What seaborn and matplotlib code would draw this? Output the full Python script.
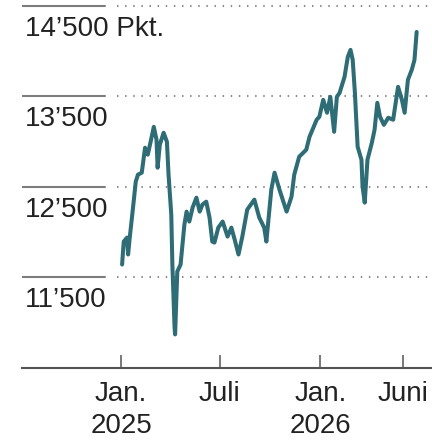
import matplotlib
matplotlib.use("Agg")
import matplotlib.pyplot as plt
import matplotlib.dates as mdates
import matplotlib.transforms as mtransforms
import numpy as np
import pandas as pd
import seaborn as sns

# Index level (points) over time
dates = [
    "2025-01-03", "2025-01-06", "2025-01-12", "2025-01-14", "2025-01-17", "2025-01-23",
    "2025-01-28", "2025-02-01", "2025-02-08", "2025-02-14", "2025-02-19", "2025-02-25",
    "2025-03-02", "2025-03-07", "2025-03-09", "2025-03-13", "2025-03-20", "2025-03-26",
    "2025-03-29", "2025-04-03", "2025-04-05", "2025-04-09", "2025-04-10", "2025-04-14",
    "2025-04-20", "2025-04-27", "2025-05-01", "2025-05-06", "2025-05-12", "2025-05-19",
    "2025-05-25", "2025-05-30", "2025-06-06", "2025-06-12", "2025-06-17", "2025-06-21",
    "2025-06-28", "2025-07-06", "2025-07-15", "2025-07-22", "2025-07-28", "2025-08-04",
    "2025-08-11", "2025-08-20", "2025-09-02", "2025-09-11", "2025-09-20", "2025-09-24",
    "2025-10-03", "2025-10-09", "2025-10-18", "2025-10-31", "2025-11-09", "2025-11-14",
    "2025-11-23", "2025-12-06", "2025-12-12", "2025-12-25", "2025-12-30", "2026-01-06",
    "2026-01-13", "2026-01-19", "2026-01-26", "2026-01-31", "2026-02-05", "2026-02-14",
    "2026-02-20", "2026-02-25", "2026-03-01", "2026-03-05", "2026-03-10", "2026-03-17",
    "2026-03-19", "2026-03-23", "2026-03-28", "2026-04-05", "2026-04-10", "2026-04-15",
    "2026-04-20", "2026-04-27", "2026-05-05", "2026-05-14", "2026-05-23", "2026-05-30",
    "2026-06-04", "2026-06-10", "2026-06-17", "2026-06-22", "2026-06-26",
]
points = [
    11643, 11897, 11941, 11754, 11941, 12272,
    12559, 12636, 12658, 12934, 12857, 13022,
    13165, 13022, 12713, 12967, 13099, 13000,
    12636, 12195, 11643, 10948, 10871, 11566,
    11643, 12084, 12228, 12118, 12272, 12382,
    12228, 12305, 12338, 12162, 11897, 11886,
    12051, 12118, 11952, 12051, 11919, 11754,
    11952, 12250, 12360, 12162, 12051, 11897,
    12470, 12658, 12470, 12228, 12393, 12636,
    12834, 12912, 13055, 13243, 13276, 13463,
    13320, 13496, 13110, 13496, 13540, 13717,
    13937, 14015, 13904, 13540, 12945, 12801,
    12504, 12327, 12801, 12989, 13132, 13430,
    13276, 13187, 13265, 13243, 13607, 13463,
    13320, 13684, 13794, 13904, 14213,
]

grid_levels = [14500, 13500, 12500, 11500]
grid_labels = ["14’500 Pkt.", "13’500", "12’500", "11’500"]

tick_dates = ["2025-01-01", "2025-07-01", "2026-01-01", "2026-06-01"]
tick_labels = ["Jan.\n2025", "Juli", "Jan.\n2026", "Juni"]

df = pd.DataFrame({"date": pd.to_datetime(dates), "points": points})

sns.set_style("white")
plt.rcParams["font.family"] = ["Liberation Sans", "DejaVu Sans"]

fig = plt.figure(figsize=(4.32, 4.41), dpi=100)
W, H = 432, 441
ax = fig.add_axes([22 / W, (H - 368) / H, (432 - 22) / W, 368 / H])

line_color = "#2e6c76"
text_color = "#222222"

sns.lineplot(data=df, x="date", y="points", ax=ax, color=line_color,
             linewidth=2.9, solid_joinstyle="round", solid_capstyle="round")

# axis ranges
origin = pd.Timestamp("2025-01-01")
px_per_day = 0.5465
left = origin - pd.Timedelta(days=(121 - 22) / px_per_day)
right = origin + pd.Timedelta(days=(432 - 121) / px_per_day)
ax.set_xlim(mdates.date2num(left), mdates.date2num(right))
ax.set_ylim(10500, 14566)

# gridlines: solid stub under the label, dotted across the plot
trans = mtransforms.blended_transform_factory(ax.transAxes, ax.transData)
for lvl, lab in zip(grid_levels, grid_labels):
    ax.axhline(lvl, xmin=0, xmax=(105 - 22) / 410, color="#7d7d7d", lw=1.5, zorder=1)
    ax.axhline(lvl, xmin=(117 - 22) / 410, xmax=1, color="#8c8c8c", lw=1.5,
               linestyle=(0, (0.7, 3.2)), zorder=1)
    ax.text(0.008, lvl - 330, lab, transform=trans, ha="left", va="baseline",
            fontsize=20, color=text_color)

for s in ["top", "right", "left"]:
    ax.spines[s].set_visible(False)
ax.spines["bottom"].set_color("#555555")
ax.spines["bottom"].set_linewidth(1.5)

ax.set_yticks([])
ax.set_xticks([mdates.date2num(pd.Timestamp(d)) for d in tick_dates])
ax.set_xticklabels(tick_labels)
ax.tick_params(axis="x", bottom=True, direction="in", length=9.5, width=1.1,
               color="#555555", pad=9.5, labelsize=20, labelcolor=text_color)
for t in ax.get_xticklabels():
    t.set_linespacing(1.3)
ax.set_xlabel("")
ax.set_ylabel("")
ax.grid(False)

fig.savefig("out.png", dpi=100, facecolor="white")
